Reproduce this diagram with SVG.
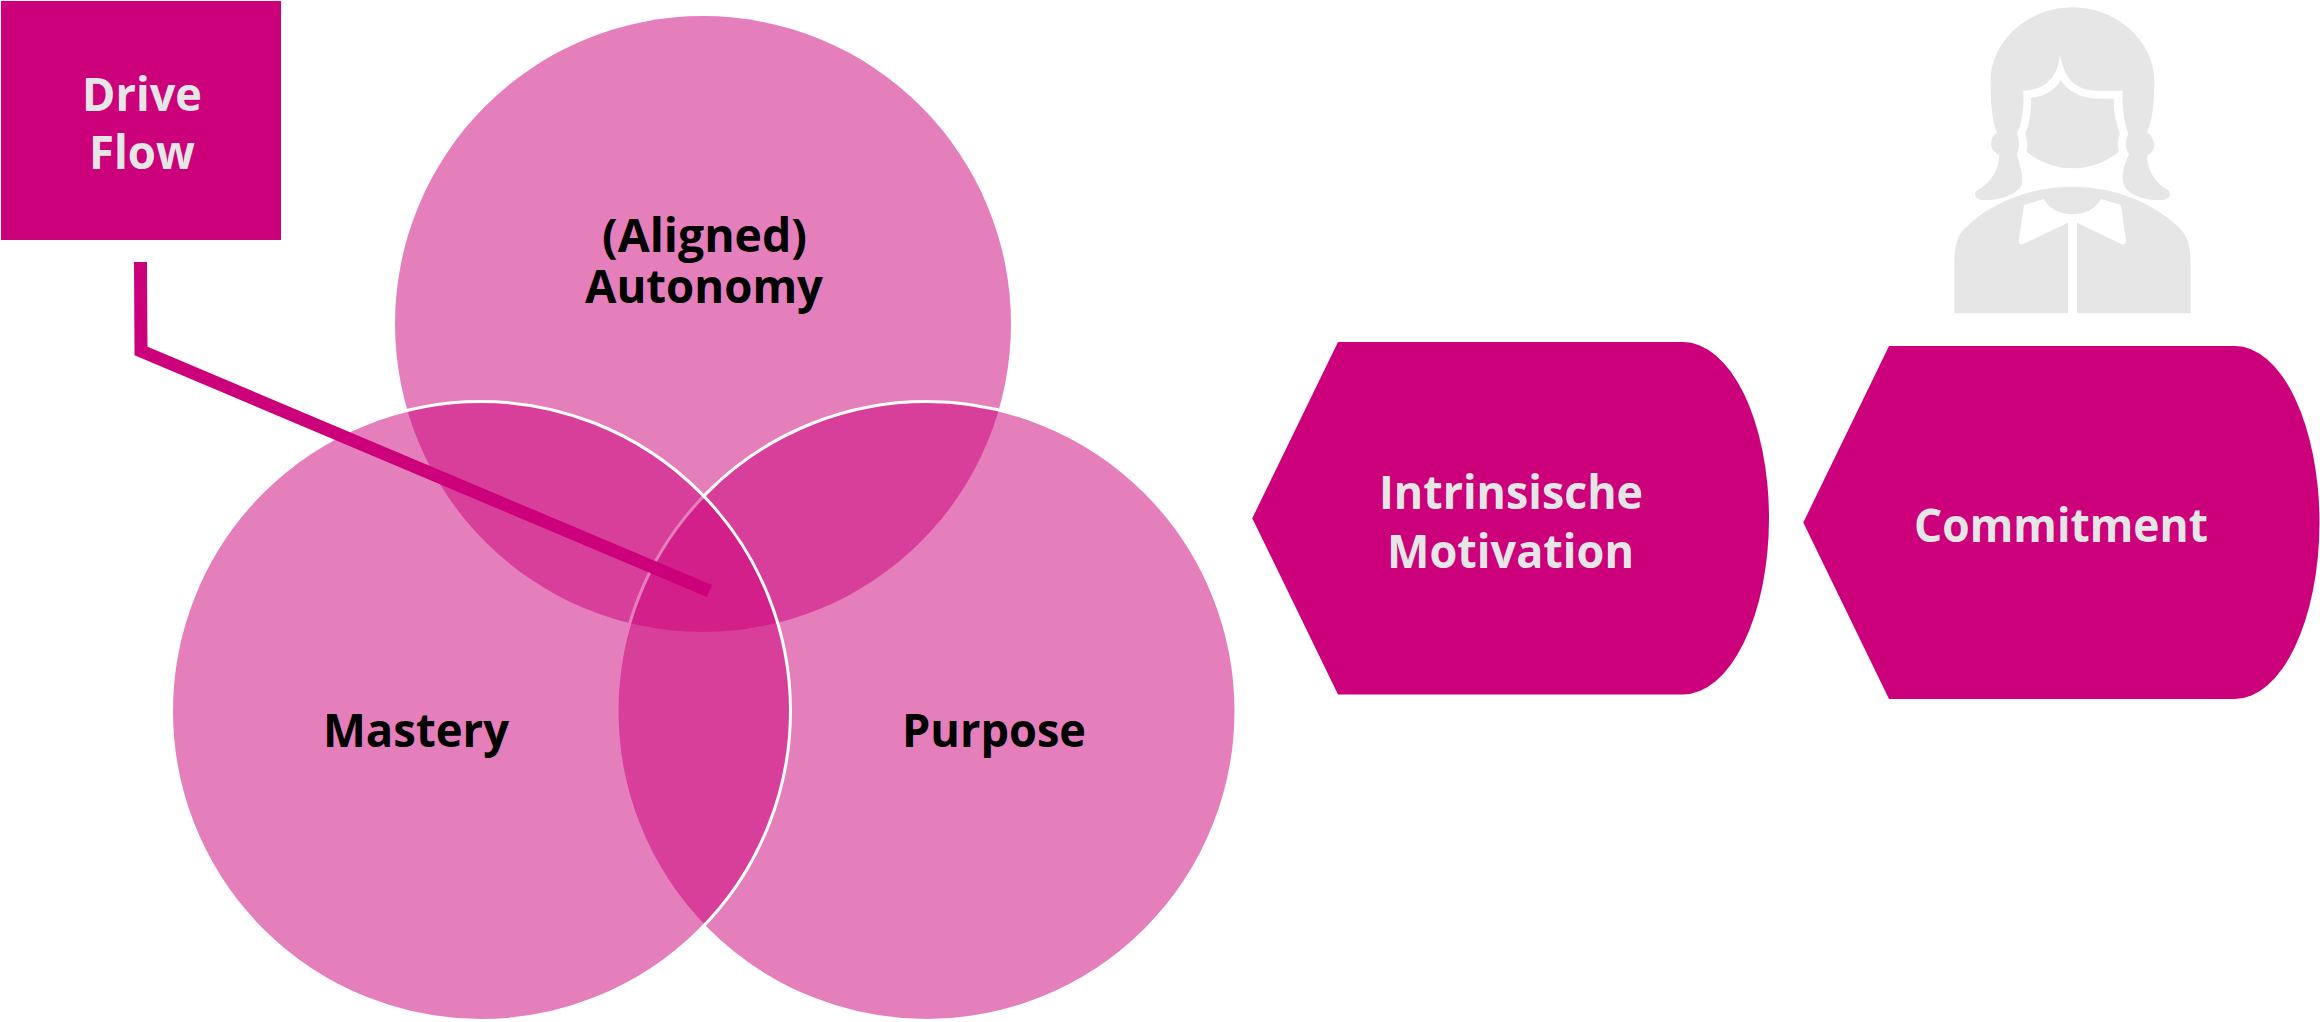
<svg xmlns="http://www.w3.org/2000/svg" width="2320" height="1022" viewBox="0 0 2320 1022">
<style>
.t{font-family:"Open Sans","Noto Sans","Liberation Sans",sans-serif;font-weight:700;font-size:46px}
.l{fill:#e6e6e6}
.d{fill:#000}
.c{fill:#cc007a;fill-opacity:.5}
.s{stroke:#fff;stroke-width:3}
.m{fill:#cc007a}
.p{fill:#e6e6e6}
</style>
<rect width="2320" height="1022" fill="#fff"/>
<g id="node-autonomy">
<circle class="c" cx="703" cy="324" r="308"/>
</g>
<g id="node-purpose">
<circle class="c s" cx="926.500" cy="711" r="309.500"/>
</g>
<g id="node-mastery">
<circle class="c s" cx="481" cy="711" r="309.500"/>
</g>
<g id="connectors">
<path d="M140.500 262L141 351L709.500 591" fill="none" stroke="#cc007a" stroke-width="13" stroke-miterlimit="10"/>
</g>
<g id="label-autonomy">
<text class="t d" x="602" y="252" textLength="205" lengthAdjust="spacingAndGlyphs">(Aligned)</text>
<text class="t d" x="585" y="303" textLength="238" lengthAdjust="spacingAndGlyphs">Autonomy</text>
</g>
<g id="label-mastery">
<text class="t d" x="323" y="747" textLength="186" lengthAdjust="spacingAndGlyphs">Mastery</text>
</g>
<g id="label-purpose">
<text class="t d" x="902" y="747" textLength="184" lengthAdjust="spacingAndGlyphs">Purpose</text>
</g>
<g id="node-drive-flow">
<rect class="m" x="1" y="1" width="280" height="239"/>
<text class="t l" x="82" y="111" textLength="120" lengthAdjust="spacingAndGlyphs">Drive</text>
<text class="t l" x="89" y="169" textLength="106" lengthAdjust="spacingAndGlyphs">Flow</text>
</g>
<g id="node-intrinsische-motivation">
<path class="m" d="M1252.300 518.200L1338 342H1683A86 176.200 0 0 1 1683 694.400H1338Z"/>
<text class="t l" x="1379" y="509" textLength="264" lengthAdjust="spacingAndGlyphs">Intrinsische</text>
<text class="t l" x="1387" y="568" textLength="247" lengthAdjust="spacingAndGlyphs">Motivation</text>
</g>
<g id="node-commitment">
<path class="m" d="M1803.300 522.500L1889 346H2235A84.500 176.500 0 0 1 2235 699H1889Z"/>
<text class="t l" x="1914" y="542" textLength="294" lengthAdjust="spacingAndGlyphs">Commitment</text>
</g>
<g id="node-person" transform="translate(1920 0) scale(.33333)">
<path class="p" d="M457 22C320 22 212 130 212 240C212 290 214 320 215 320C218 360 225 385 232 398C218 405 212 418 214 430C212 445 225 460 237 465C240 510 205 555 170 572C160 580 165 598 185 600C220 603 290 590 305 555C312 530 300 500 290 462C300 445 300 420 290 402C305 370 312 340 310 272C360 270 410 250 420 165C430 210 445 270 530 272L608 272C606 340 615 375 625 402C615 420 615 445 627 462C615 490 600 530 612 555C625 590 690 603 725 600C750 598 755 580 745 570C710 555 680 510 682 465C695 460 705 445 702 430C700 415 690 400 680 398C695 370 703 320 703 240C703 130 595 22 457 22Z"/>
<path class="p" d="M333 293C375 290 405 270 422 240C440 270 480 296 535 296L581 296C580 340 592 380 600 402C592 420 592 440 597 455C560 485 510 505 457 505C405 505 355 485 320 455C325 440 322 420 315 402C325 380 335 340 333 293Z"/>
<path class="p" d="M103 940L103 790C103 730 115 700 140 680C210 610 330 560 457 560C585 560 700 610 775 680C800 705 812 730 812 790L812 940L471 940L471 668L605 733C612 735 619 730 618 722L603 615L543 597C530 625 495 643 457 643C420 643 385 625 372 597L312 615L296 722C295 730 302 735 310 732L444 668L444 940Z"/>
</g>
</svg>
